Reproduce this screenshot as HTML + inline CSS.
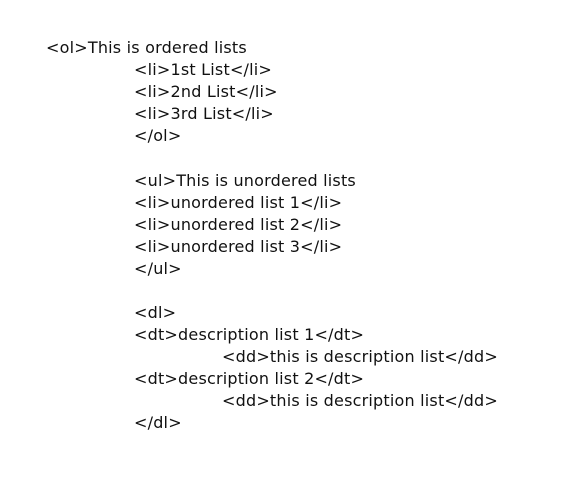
<!DOCTYPE html>
<html><head><meta charset="utf-8"><style>
body{margin:0;width:562px;height:504px;background:#fff;position:relative;overflow:hidden}
div{position:absolute;font-family:"DejaVu Sans","Liberation Sans",sans-serif;font-size:16px;letter-spacing:0.2px;color:#111;white-space:pre;line-height:20px}
</style></head><body>
<div style="left:46px;top:38px">&lt;ol&gt;This is ordered lists</div>
<div style="left:134px;top:60px">&lt;li&gt;1st List&lt;/li&gt;</div>
<div style="left:134px;top:82px">&lt;li&gt;2nd List&lt;/li&gt;</div>
<div style="left:134px;top:104px">&lt;li&gt;3rd List&lt;/li&gt;</div>
<div style="left:134px;top:126px">&lt;/ol&gt;</div>
<div style="left:134px;top:171px">&lt;ul&gt;This is unordered lists</div>
<div style="left:134px;top:193px">&lt;li&gt;unordered list 1&lt;/li&gt;</div>
<div style="left:134px;top:215px">&lt;li&gt;unordered list 2&lt;/li&gt;</div>
<div style="left:134px;top:237px">&lt;li&gt;unordered list 3&lt;/li&gt;</div>
<div style="left:134px;top:259px">&lt;/ul&gt;</div>
<div style="left:134px;top:303px">&lt;dl&gt;</div>
<div style="left:134px;top:325px">&lt;dt&gt;description list 1&lt;/dt&gt;</div>
<div style="left:222px;top:347px">&lt;dd&gt;this is description list&lt;/dd&gt;</div>
<div style="left:134px;top:369px">&lt;dt&gt;description list 2&lt;/dt&gt;</div>
<div style="left:222px;top:391px">&lt;dd&gt;this is description list&lt;/dd&gt;</div>
<div style="left:134px;top:413px">&lt;/dl&gt;</div>
</body></html>
